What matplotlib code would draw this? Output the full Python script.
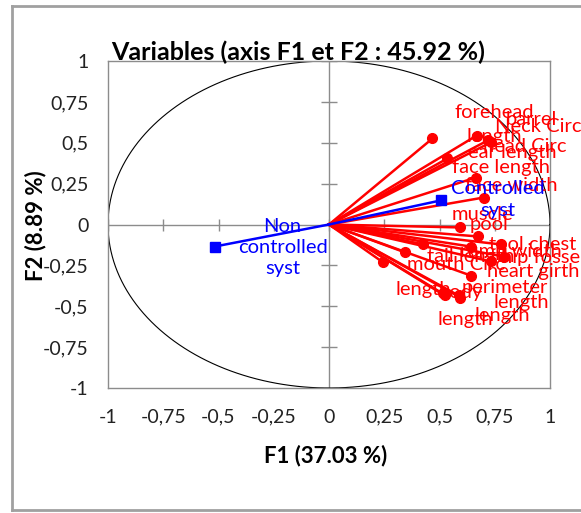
"""Correlation circle (F1 x F2) for the morphometric variables."""

import matplotlib

matplotlib.use("Agg")
import matplotlib.pyplot as plt
import numpy as np
from matplotlib.lines import Line2D

plt.rcParams["font.family"] = ["Lato", "DejaVu Sans"]

# ---- data -------------------------------------------------------------
VARIABLES = [
    "forehead\nlength", "barrel", "Neck Circ", "head Circ", "ear length",
    "face length", "face width", "muscle", "pool", "tool chest",
    "rump width", "hip fosse", "mouth Circ", "heart girth", "tail length",
    "perimeter", "length", "body", "length", "length", "length",
]
F1 = [
    0.468, 0.668, 0.732, 0.718, 0.536,
    0.664, 0.700, 0.595, 0.673, 0.777,
    0.641, 0.791, 0.345, 0.732, 0.427,
    0.641, 0.245, 0.514, 0.523, 0.586, 0.595,
]
F2 = [
    0.526, 0.544, 0.502, 0.514, 0.404,
    0.287, 0.165, -0.018, -0.073, -0.122,
    -0.135, -0.196, -0.171, -0.226, -0.122,
    -0.312, -0.232, -0.422, -0.434, -0.434, -0.447,
]

SUPPL = ["Controlled\nsyst", "Non\ncontrolled\nsyst"]
SUPPL_F1 = [0.505, -0.518]
SUPPL_F2 = [0.147, -0.135]

TICKS = [-1, -0.75, -0.5, -0.25, 0, 0.25, 0.5, 0.75, 1]
TICK_LABELS = ["-1", "-0,75", "-0,5", "-0,25", "0", "0,25", "0,5", "0,75", "1"]

# label placement (pixel offset of the label centre from its point)
LABEL_OFFSETS = [
    (62, 14), (55, 16), (47, 16), (37, -6), (65, 6),
    (25, 10), (28, 12), (22, 13), (11, 12), (32, 0),
    (40, -5), (37, -1), (51, -12), (42, -10), (47, -12),
    (34, -12), (40, -27), (18, 1), (21, -24), (63, -7), (42, -18),
]
SUPPL_OFFSETS = [(57, 1), (68, -1)]

RED = "#ff0000"
BLUE = "#0000ff"
GRAY = "#8c8c8c"


def main() -> None:
    fig = plt.figure(figsize=(5.81, 5.13), dpi=100)
    ax = fig.add_axes([108 / 581, 125 / 513, 442 / 581, 327 / 513])

    # outer chart frame
    for xs, ys in [((0.021, 0.021), (0.006, 0.988)),
                   ((0.021, 1.0), (0.988, 0.988)),
                   ((0.021, 1.0), (0.006, 0.006))]:
        fig.add_artist(Line2D(xs, ys, color="#a0a0a0", lw=2.0, transform=fig.transFigure))

    # axes through the origin with Excel-like crossing ticks
    ax.axhline(0, color=GRAY, lw=1.0, zorder=1)
    ax.axvline(0, color=GRAY, lw=1.0, zorder=1)
    ax.plot(TICKS, np.zeros(len(TICKS)), ls="none", marker="|", ms=9, mew=1.0, color=GRAY, zorder=1)
    ax.plot(np.zeros(len(TICKS)), TICKS, ls="none", marker="_", ms=12, mew=1.0, color=GRAY, zorder=1)

    theta = np.linspace(0, 2 * np.pi, 400)
    ax.plot(np.cos(theta), np.sin(theta), color="black", lw=0.8, zorder=2)

    for x, y in zip(F1, F2):
        ax.plot([0, x], [0, y], color=RED, lw=1.8, zorder=3)
    ax.plot(F1, F2, ls="none", marker="o", ms=7, color=RED, zorder=4)
    for name, x, y, off in zip(VARIABLES, F1, F2, LABEL_OFFSETS):
        ax.annotate(name, (x, y), xytext=off, textcoords="offset pixels",
                    ha="center", va="center", multialignment="center",
                    color=RED, fontsize=14.5, linespacing=1.45, zorder=5)

    for x, y in zip(SUPPL_F1, SUPPL_F2):
        ax.plot([0, x], [0, y], color=BLUE, lw=1.8, zorder=6)
    ax.plot(SUPPL_F1, SUPPL_F2, ls="none", marker="s", ms=7, color=BLUE, zorder=7)
    for name, x, y, off in zip(SUPPL, SUPPL_F1, SUPPL_F2, SUPPL_OFFSETS):
        ax.annotate(name, (x, y), xytext=off, textcoords="offset pixels",
                    ha="center", va="center", multialignment="center",
                    color=BLUE, fontsize=14.5, linespacing=1.3, zorder=8)

    ax.set_xlim(-1, 1)
    ax.set_ylim(-1, 1)
    ax.set_xticks(TICKS, TICK_LABELS)
    ax.set_yticks(TICKS, TICK_LABELS)
    ax.tick_params(length=0, labelsize=14, colors="#222222")
    ax.tick_params(axis="x", pad=15)
    ax.tick_params(axis="y", pad=14)
    for spine in ax.spines.values():
        spine.set_color(GRAY)
        spine.set_linewidth(1.0)

    ax.set_xlabel("F1 (37.03 %)", fontsize=16, fontweight="bold", va="center")
    ax.xaxis.set_label_coords(0.493, -0.205)
    ax.set_ylabel("F2 (8.89 %)", fontsize=16, fontweight="bold", va="center")
    ax.yaxis.set_label_coords(-0.165, 0.498)
    fig.text(298 / 581, 1 - 52 / 513, "Variables (axis F1 et F2 : 45.92 %)",
             ha="center", va="center", fontsize=18, fontweight="bold")

    fig.savefig("out.png", dpi=100, facecolor="white")
    plt.close(fig)


if __name__ == "__main__":
    main()
